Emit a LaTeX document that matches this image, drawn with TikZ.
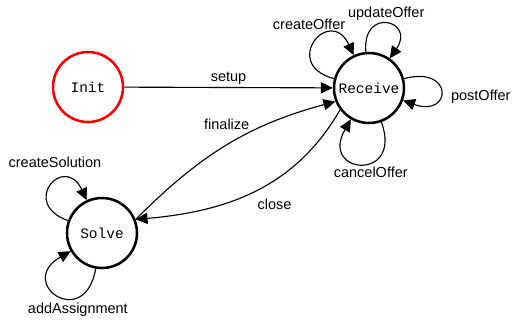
\documentclass[tikz,border=0pt]{standalone}
\usepackage{fontspec}
\setmainfont{Liberation Sans}
\newfontfamily\statefont{Liberation Mono}
\usetikzlibrary{arrows.meta}

\tikzset{
  state/.style={circle, draw, line width=1.8pt, minimum size=1.75cm, inner sep=0pt,
    font=\statefont\fontsize{10.3}{12}\selectfont},
  startstate/.style={state, draw=red},
  trans/.style={-{Triangle[length=8.5pt,width=8pt]}, line width=0.8pt},
  lbl/.style={font=\fontsize{10.3}{12}\selectfont, inner sep=2pt},
}

\begin{document}
\begin{tikzpicture}
  \useasboundingbox (0,0) rectangle (12.825,-8.075);
  % states
  \node[startstate] (init) at (2.2,-2.175) {Init};
  \node[state] (receive) at (9.225,-2.2) {Receive};
  \node[state] (solve) at (2.55,-5.825) {Solve};

  % transitions between states
  \draw[trans] (init) -- node[lbl,above]{setup} (receive);
  \draw[trans] (solve.22) to[out=45,in=195] node[lbl,pos=0.5,above=9pt]{finalize} (receive.202);
  \draw[trans] (receive.217) to[out=240,in=5] node[lbl,pos=0.4,below=11pt]{close} (solve.22);

  % self loops on Receive
  \draw[trans] (receive) to[out=165,in=115,min distance=1.4cm] node[lbl,above=7pt,xshift=-4pt]{createOffer} (receive);
  \draw[trans] (receive) to[out=95,in=55,min distance=1.15cm] node[lbl,above]{updateOffer} (receive);
  \draw[trans] (receive) to[out=15,in=-20,min distance=1.3cm] node[lbl,right=5pt,yshift=-4pt]{postOffer} (receive);
  \draw[trans] (receive) to[out=-70,in=-120,min distance=1.6cm] node[lbl,below,xshift=6pt]{cancelOffer} (receive);

  % self loops on Solve
  \draw[trans] (solve) to[out=160,in=115,min distance=1.3cm] node[lbl,above=11pt,xshift=3pt]{createSolution} (solve);
  \draw[trans] (solve) to[out=260,in=210,min distance=1.6cm] node[lbl,below=3pt,xshift=14pt]{addAssignment} (solve);
\end{tikzpicture}
\end{document}
